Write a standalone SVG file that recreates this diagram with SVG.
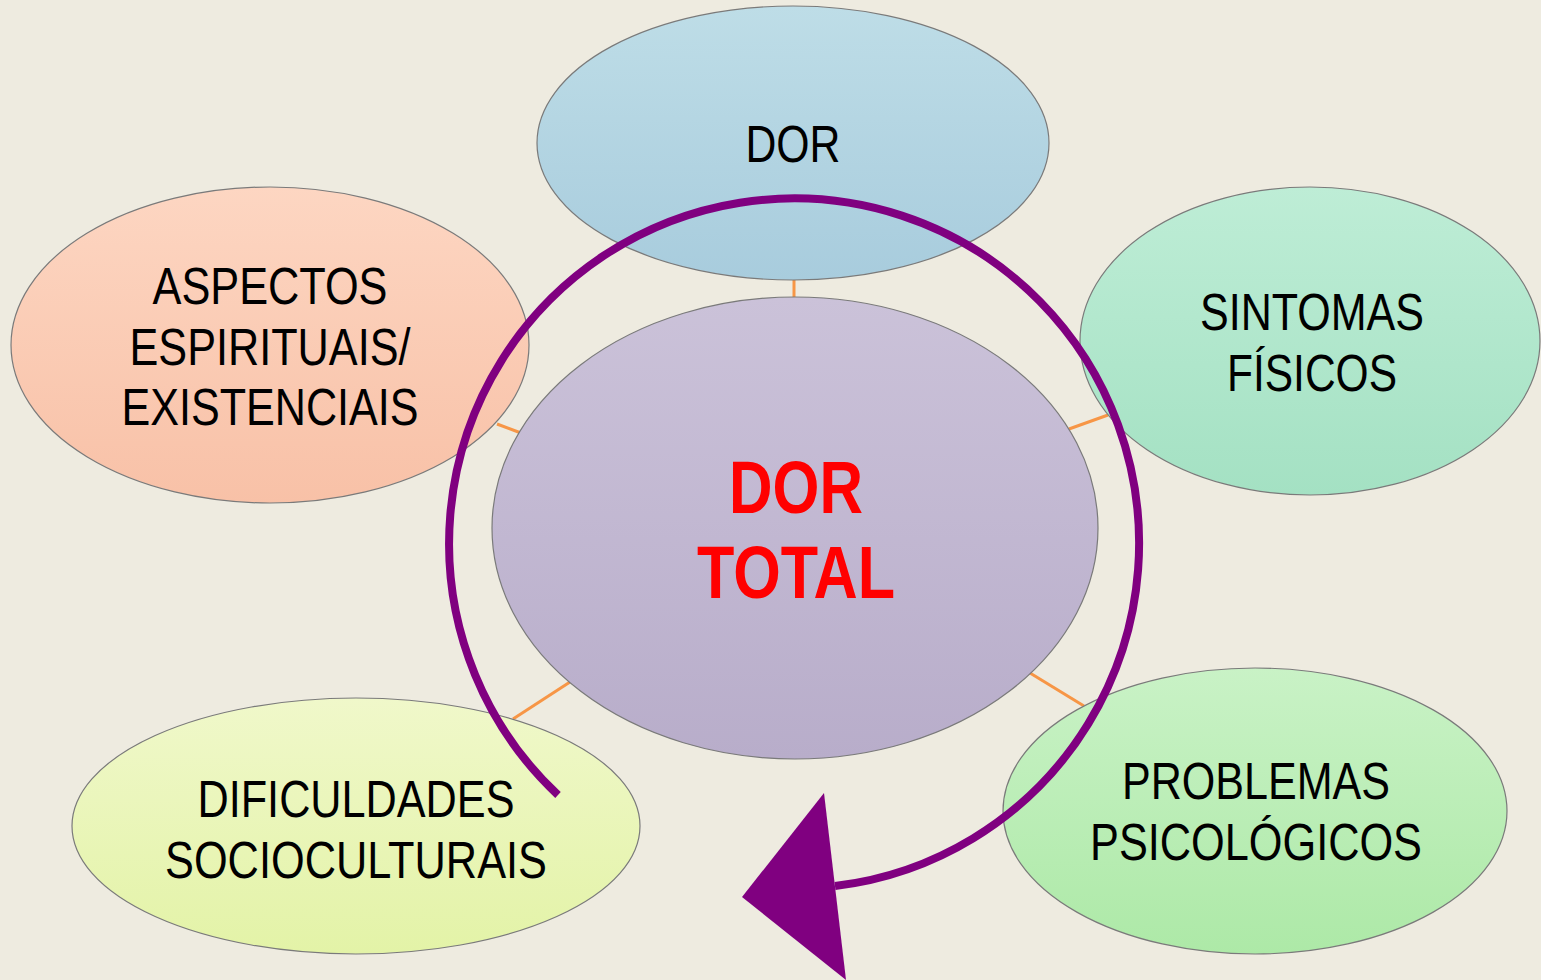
<svg xmlns="http://www.w3.org/2000/svg" width="1541" height="980" viewBox="0 0 1541 980">
<defs>
<linearGradient id="gDor" x1="0" y1="0" x2="0" y2="1"><stop offset="0" stop-color="#BEDDE7"/><stop offset="1" stop-color="#A8CCDD"/></linearGradient>
<linearGradient id="gCen" x1="0" y1="0" x2="0" y2="1"><stop offset="0" stop-color="#CBC2D9"/><stop offset="1" stop-color="#B8ADCA"/></linearGradient>
<linearGradient id="gAsp" x1="0" y1="0" x2="0" y2="1"><stop offset="0" stop-color="#FDD6C2"/><stop offset="1" stop-color="#F8C1A7"/></linearGradient>
<linearGradient id="gSin" x1="0" y1="0" x2="0" y2="1"><stop offset="0" stop-color="#BEEDD6"/><stop offset="1" stop-color="#A4E1C3"/></linearGradient>
<linearGradient id="gDif" x1="0" y1="0" x2="0" y2="1"><stop offset="0" stop-color="#F0F8CA"/><stop offset="1" stop-color="#E3F3A7"/></linearGradient>
<linearGradient id="gPro" x1="0" y1="0" x2="0" y2="1"><stop offset="0" stop-color="#C9F2C6"/><stop offset="1" stop-color="#ADE9A7"/></linearGradient>
</defs>
<style>
.node{stroke:#7A7A7A;stroke-width:1.2}
.lbl{font-family:"Liberation Sans",Arial,sans-serif;font-size:52px;fill:#000;text-anchor:middle}
.big{font-family:"Liberation Sans",Arial,sans-serif;font-size:74px;font-weight:bold;fill:#FF0000;text-anchor:middle}
.con{stroke:#F79646;stroke-width:3;fill:none}
</style>
<rect width="1541" height="980" fill="#EEEBE0"/>
<g id="connectors">
<line class="con" x1="794" y1="280" x2="794" y2="298"/>
<line class="con" x1="497" y1="424" x2="521" y2="433"/>
<line class="con" x1="1069" y1="429" x2="1108" y2="415"/>
<line class="con" x1="513" y1="719" x2="570" y2="682"/>
<line class="con" x1="1030" y1="673" x2="1084" y2="706"/>
</g>
<g id="node-dor">
<ellipse class="node" cx="793" cy="143" rx="256" ry="137" fill="url(#gDor)"/>
<text class="lbl" x="793" y="162" textLength="95" lengthAdjust="spacingAndGlyphs">DOR</text>
</g>
<g id="node-aspectos">
<ellipse class="node" cx="270" cy="345" rx="259" ry="158" fill="url(#gAsp)"/>
<text class="lbl" x="270" y="304" textLength="235" lengthAdjust="spacingAndGlyphs">ASPECTOS</text>
<text class="lbl" x="270" y="365" textLength="281" lengthAdjust="spacingAndGlyphs">ESPIRITUAIS/</text>
<text class="lbl" x="270" y="425" textLength="297" lengthAdjust="spacingAndGlyphs">EXISTENCIAIS</text>
</g>
<g id="node-sintomas">
<ellipse class="node" cx="1310" cy="341" rx="230" ry="154" fill="url(#gSin)"/>
<text class="lbl" x="1312" y="330" textLength="224" lengthAdjust="spacingAndGlyphs">SINTOMAS</text>
<text class="lbl" x="1312" y="391" textLength="170" lengthAdjust="spacingAndGlyphs">FÍSICOS</text>
</g>
<g id="node-dificuldades">
<ellipse class="node" cx="356" cy="826" rx="284" ry="128" fill="url(#gDif)"/>
<text class="lbl" x="356" y="817" textLength="317" lengthAdjust="spacingAndGlyphs">DIFICULDADES</text>
<text class="lbl" x="356" y="878" textLength="382" lengthAdjust="spacingAndGlyphs">SOCIOCULTURAIS</text>
</g>
<g id="node-problemas">
<ellipse class="node" cx="1255" cy="811" rx="252" ry="143" fill="url(#gPro)"/>
<text class="lbl" x="1256" y="799" textLength="268" lengthAdjust="spacingAndGlyphs">PROBLEMAS</text>
<text class="lbl" x="1256" y="860" textLength="332" lengthAdjust="spacingAndGlyphs">PSICOLÓGICOS</text>
</g>
<g id="node-center">
<ellipse class="node" cx="795" cy="528" rx="303" ry="231" fill="url(#gCen)"/>
<text class="big" x="796" y="513" textLength="134" lengthAdjust="spacingAndGlyphs">DOR</text>
<text class="big" x="796" y="598" textLength="198" lengthAdjust="spacingAndGlyphs">TOTAL</text>
</g>
<g id="cycle-arrow">
<path d="M558,795 A345,345 0 1 1 835,886" fill="none" stroke="#800080" stroke-width="8"/>
<polygon points="742,897 824,793 846,980" fill="#800080"/>
</g>
</svg>
